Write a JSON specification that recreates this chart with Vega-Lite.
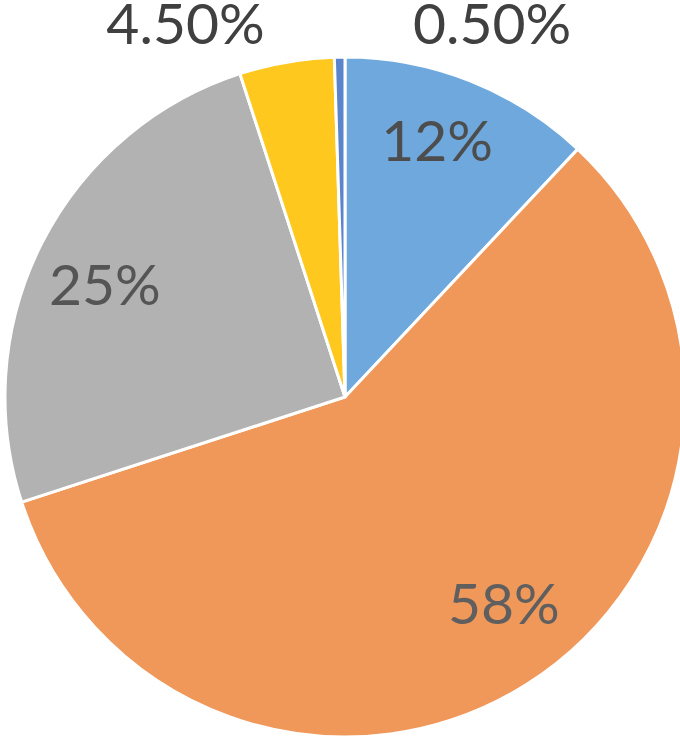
{
  "$schema": "https://vega.github.io/schema/vega-lite/v6.json",
  "width": 670,
  "height": 678,
  "autosize": {"type": "none"},
  "padding": {"left": 10, "top": 58, "right": 0, "bottom": 0},
  "background": "white",
  "config": {"view": {"stroke": null}},
  "data": {
    "values": [
      {"label": "12%", "value": 12, "order": 1},
      {"label": "58%", "value": 58, "order": 2},
      {"label": "25%", "value": 25, "order": 3},
      {"label": "4.50%", "value": 4.5, "order": 4},
      {"label": "0.50%", "value": 0.5, "order": 5}
    ]
  },
  "encoding": {
    "theta": {"field": "value", "type": "quantitative", "stack": true},
    "order": {"field": "order", "type": "quantitative"}
  },
  "layer": [
    {
      "mark": {"type": "arc", "outerRadius": 340, "stroke": "white", "strokeWidth": 3},
      "encoding": {
        "color": {
          "field": "label",
          "type": "nominal",
          "scale": {
            "domain": ["12%", "58%", "25%", "4.50%", "0.50%"],
            "range": ["#6EA8DC", "#F0975A", "#B2B2B2", "#FFC81F", "#5A84CC"]
          },
          "legend": null
        }
      }
    },
    {
      "mark": {"type": "text", "radius": 272, "dx": -8, "dy": 0, "font": "Lato", "fontSize": 57, "fill": "#4d4d4d", "align": "center", "baseline": "middle"},
      "encoding": {"text": {"condition": {"test": "datum.label === '12%'", "field": "label", "type": "nominal"}, "value": ""}}
    },
    {
      "mark": {"type": "text", "radius": 261, "dx": 19, "dy": -10, "font": "Lato", "fontSize": 57, "fill": "#5f5f5f", "align": "center", "baseline": "middle"},
      "encoding": {"text": {"condition": {"test": "datum.label === '58%'", "field": "label", "type": "nominal"}, "value": ""}}
    },
    {
      "mark": {"type": "text", "radius": 265, "dx": -4, "dy": 11, "font": "Lato", "fontSize": 57, "fill": "#555555", "align": "center", "baseline": "middle"},
      "encoding": {"text": {"condition": {"test": "datum.label === '25%'", "field": "label", "type": "nominal"}, "value": ""}}
    },
    {
      "mark": {"type": "text", "radius": 375, "dx": -95, "dy": -1, "font": "Lato", "fontSize": 57, "fill": "#404040", "align": "center", "baseline": "middle"},
      "encoding": {"text": {"condition": {"test": "datum.label === '4.50%'", "field": "label", "type": "nominal"}, "value": ""}}
    },
    {
      "mark": {"type": "text", "radius": 373, "dx": 153, "dy": 3, "font": "Lato", "fontSize": 57, "fill": "#404040", "align": "center", "baseline": "middle"},
      "encoding": {"text": {"condition": {"test": "datum.label === '0.50%'", "field": "label", "type": "nominal"}, "value": ""}}
    }
  ]
}
